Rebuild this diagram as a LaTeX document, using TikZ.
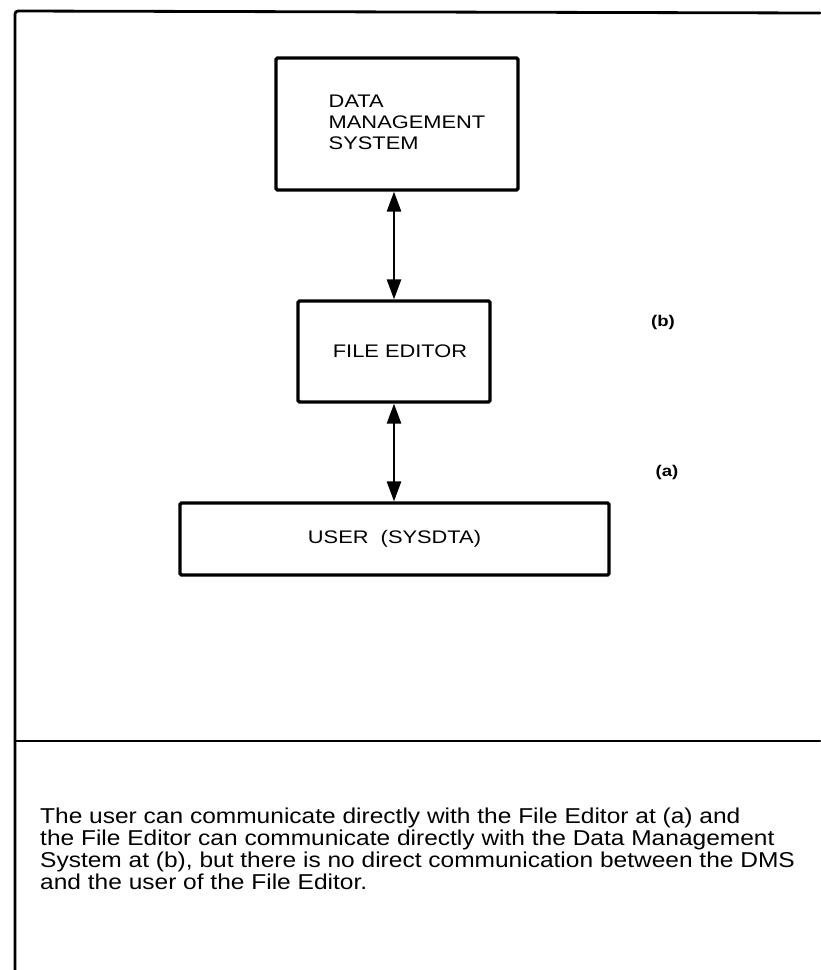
\documentclass[tikz,border=0pt]{standalone}
\usepackage{fontspec}
\setmainfont{Liberation Sans}
\newfontfamily\boxfont[FakeStretch=1.2]{Liberation Sans}
\newfontfamily\lblfont[FakeStretch=1.2]{Liberation Sans Bold}
\newfontfamily\parafont[FakeStretch=1.14]{Liberation Sans}
\usetikzlibrary{arrows.meta}
\tikzset{
  frame/.style={line width=2.8pt, line cap=round, line join=round},
  block/.style={draw, line width=3.2pt, rounded corners=1.5pt, inner sep=0pt,
     font=\boxfont\fontsize{18.2}{21}\selectfont, align=left},
  link/.style={line width=2.6pt, {Triangle[length=20pt,width=14pt]}-{Triangle[length=20pt,width=14pt]}},
  tag/.style={font=\lblfont\fontsize{15.5}{17}\selectfont, inner sep=0pt},
  para/.style={font=\parafont\fontsize{21.5}{22}\selectfont, align=left, inner sep=0pt, anchor=west}
}
\begin{document}
\begin{tikzpicture}[x=1pt,y=-1pt]
\useasboundingbox (0,0) rectangle (820,970);
% frame
\coordinate (tl) at (15,11);
\coordinate (tr) at (820,13);
\coordinate (bl) at (15,970);
\coordinate (dl) at (15,741);
\coordinate (dr) at (820,741);
\draw[frame, rounded corners=3pt] (bl) -- (tl) -- (tr);
\draw[frame] (dl) -- (dr);
% boxes
\node[block, minimum width=242pt, minimum height=132pt] (dms) at (397,124)
  {\hspace*{20pt}\begin{tabular}{@{}l@{}}DATA\\MANAGEMENT\\SYSTEM\end{tabular}};
\node[block, minimum width=192pt, minimum height=101pt] (fe) at (394,351.5)
  {\hspace*{12pt}FILE EDITOR};
\node[block, minimum width=429pt, minimum height=72pt] (user) at (394.5,539)
  {USER\ \ (SYSDTA)};
% connectors
\draw[link] (dms.south -| fe.north) -- (fe.north);
\draw[link] (fe.south) -- (fe.south |- user.north);
% labels
\node[tag] (lb) at (663,322) {(b)};
\node[tag] (la) at (667,472) {(a)};
% paragraph
\node[para] (txt) at (40,849) {The user can communicate directly with the File Editor at (a) and\\
the File Editor can communicate directly with the Data Management\\
System at (b), but there is no direct communication between the DMS\\
and the user of the File Editor.};
\end{tikzpicture}
\end{document}
